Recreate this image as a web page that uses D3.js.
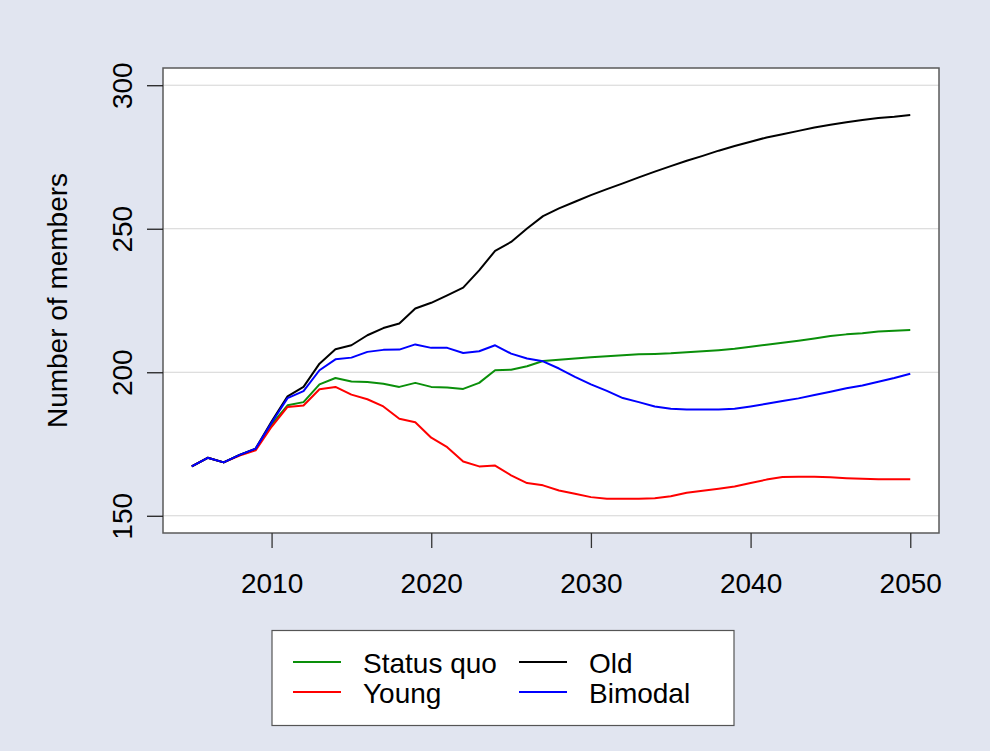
<!DOCTYPE html>
<html>
<head>
<meta charset="utf-8">
<script src="https://cdn.jsdelivr.net/npm/d3@7"></script>
<style>
  body { margin: 0; background: #e1e5f0; }
  svg { display: block; font-family: "Liberation Sans", Arial, sans-serif; }
</style>
</head>
<body>
<div id="chart"></div>
<script>
var years = d3.range(2005, 2051);

var statusQuo = [167.2,170.2,168.6,171.2,173.2, 181.8,188.5,189.6,195.8,198.0,
  196.8,196.6,196.0,194.9,196.3, 194.9,194.7,194.2,196.3,200.7,
  200.9,202.1,203.9,204.4,204.8, 205.2,205.6,205.9,206.3,206.4,
  206.6,207.0,207.3,207.7,208.2, 208.9,209.6,210.3,211.0,211.8,
  212.6,213.2,213.6,214.2,214.5,214.7];

var young = [167.2,170.2,168.6,171.0,172.8, 181.0,187.9,188.4,194.1,194.9,
  192.2,190.6,188.1,183.8,182.6, 177.2,173.9,168.9,167.2,167.5,
  164.1,161.4,160.6,158.8,157.7, 156.5,155.9,155.9,155.9,156.1,
  156.8,158.0,158.7,159.4,160.2, 161.4,162.6,163.5,163.6,163.6,
  163.4,163.1,162.9,162.7,162.7,162.7];

var old = [167.2,170.2,168.6,171.2,173.4, 182.8,191.6,194.9,203.0,208.0,
  209.4,212.9,215.4,217.0,222.2, 224.2,226.8,229.5,235.5,242.3,
  245.4,250.1,254.4,257.1,259.4, 261.7,263.8,265.8,267.9,269.9,
  271.8,273.7,275.4,277.2,278.8, 280.3,281.8,282.9,284.1,285.3,
  286.2,287.1,287.9,288.6,289.0,289.6];

var bimodal = [167.2,170.2,168.6,171.2,173.4, 182.4,191.0,193.4,200.7,204.5,
  205.1,207.1,207.8,207.9,209.7, 208.5,208.5,206.7,207.3,209.4,
  206.5,204.8,203.8,201.3,198.4, 195.8,193.5,191.0,189.6,188.1,
  187.3,187.0,187.0,187.0,187.3, 188.1,189.0,190.0,190.9,192.1,
  193.2,194.4,195.4,196.7,198.0,199.5];

var xTicks = [2010, 2020, 2030, 2040, 2050];
var yTicks = [150, 200, 250, 300];

// drawing order: blue ends up on top
var series = [
  { name: "Status quo", values: statusQuo, color: "#0a8f0a" },
  { name: "Young", values: young, color: "#ff0000" },
  { name: "Old", values: old, color: "#000000" },
  { name: "Bimodal", values: bimodal, color: "#0000ff" }
];

var W = 990, H = 751;
var box = { left: 163, right: 939, top: 68, bottom: 533 };
var fontSize = "28px";

var svg = d3.select("#chart").append("svg")
  .attr("width", W)
  .attr("height", H);

svg.append("rect")
  .attr("width", W).attr("height", H)
  .attr("fill", "#e1e5f0");

var x = d3.scaleLinear().domain([2003.2, 2051.8]).range([box.left, box.right]);
var y = d3.scaleLinear().domain([144, 306]).range([box.bottom, box.top]);

// plot panel
svg.append("rect")
  .attr("x", box.left).attr("y", box.top)
  .attr("width", box.right - box.left).attr("height", box.bottom - box.top)
  .attr("fill", "white");

// gridlines
svg.append("g").selectAll("line")
  .data(yTicks)
  .enter().append("line")
  .attr("x1", box.left).attr("x2", box.right)
  .attr("y1", function(d) { return y(d); })
  .attr("y2", function(d) { return y(d); })
  .attr("stroke", "#d4d4d4")
  .attr("stroke-width", 1);

var line = d3.line()
  .x(function(d, i) { return x(years[i]); })
  .y(function(d) { return y(d); });

svg.append("g").selectAll("path")
  .data(series)
  .enter().append("path")
  .attr("d", function(d) { return line(d.values); })
  .attr("fill", "none")
  .attr("stroke", function(d) { return d.color; })
  .attr("stroke-width", 2)
  .attr("stroke-linejoin", "round");

// box
svg.append("rect")
  .attr("x", box.left).attr("y", box.top)
  .attr("width", box.right - box.left).attr("height", box.bottom - box.top)
  .attr("fill", "none")
  .attr("stroke", "#5a5a5a")
  .attr("stroke-width", 1.5);

// x axis
var xAxis = svg.append("g")
  .attr("transform", "translate(0," + box.bottom + ")")
  .call(d3.axisBottom(x).tickValues(xTicks).tickSize(15).tickFormat(d3.format("d")));
xAxis.select(".domain").remove();
xAxis.selectAll("line").attr("stroke", "#333").attr("stroke-width", 1.3);
xAxis.selectAll("text")
  .attr("y", 60).attr("dy", 0)
  .attr("fill", "#000")
  .style("font-size", fontSize)
  .style("font-family", "Liberation Sans, Arial, sans-serif");

// y axis
var yAxis = svg.append("g")
  .attr("transform", "translate(" + box.left + ",0)")
  .call(d3.axisLeft(y).tickValues(yTicks).tickSize(16));
yAxis.select(".domain").remove();
yAxis.selectAll("line").attr("stroke", "#222").attr("stroke-width", 1.3);
yAxis.selectAll("text")
  .attr("x", 0).attr("dy", 0)
  .attr("text-anchor", "middle")
  .attr("transform", "translate(-31,0) rotate(-90)")
  .attr("fill", "#000")
  .style("font-size", fontSize)
  .style("font-family", "Liberation Sans, Arial, sans-serif");

svg.append("text")
  .attr("transform", "translate(67," + ((box.top + box.bottom) / 2) + ") rotate(-90)")
  .attr("text-anchor", "middle")
  .style("font-size", fontSize)
  .text("Number of members");

// legend
var legend = svg.append("g");
legend.append("rect")
  .attr("x", 272).attr("y", 630.5)
  .attr("width", 462).attr("height", 95)
  .attr("fill", "white")
  .attr("stroke", "#555")
  .attr("stroke-width", 1.2);

var legendItems = [
  { s: series[0], col: 0, row: 0 },
  { s: series[1], col: 0, row: 1 },
  { s: series[2], col: 1, row: 0 },
  { s: series[3], col: 1, row: 1 }
];
var colX = [293, 519];
var rowY = [662, 692];

legendItems.forEach(function(it) {
  legend.append("line")
    .attr("x1", colX[it.col]).attr("x2", colX[it.col] + 48)
    .attr("y1", rowY[it.row]).attr("y2", rowY[it.row])
    .attr("stroke", it.s.color)
    .attr("stroke-width", 2);
  legend.append("text")
    .attr("x", colX[it.col] + 70)
    .attr("y", rowY[it.row] + 10.5)
    .style("font-size", fontSize)
    .text(it.s.name);
});
</script>
</body>
</html>
